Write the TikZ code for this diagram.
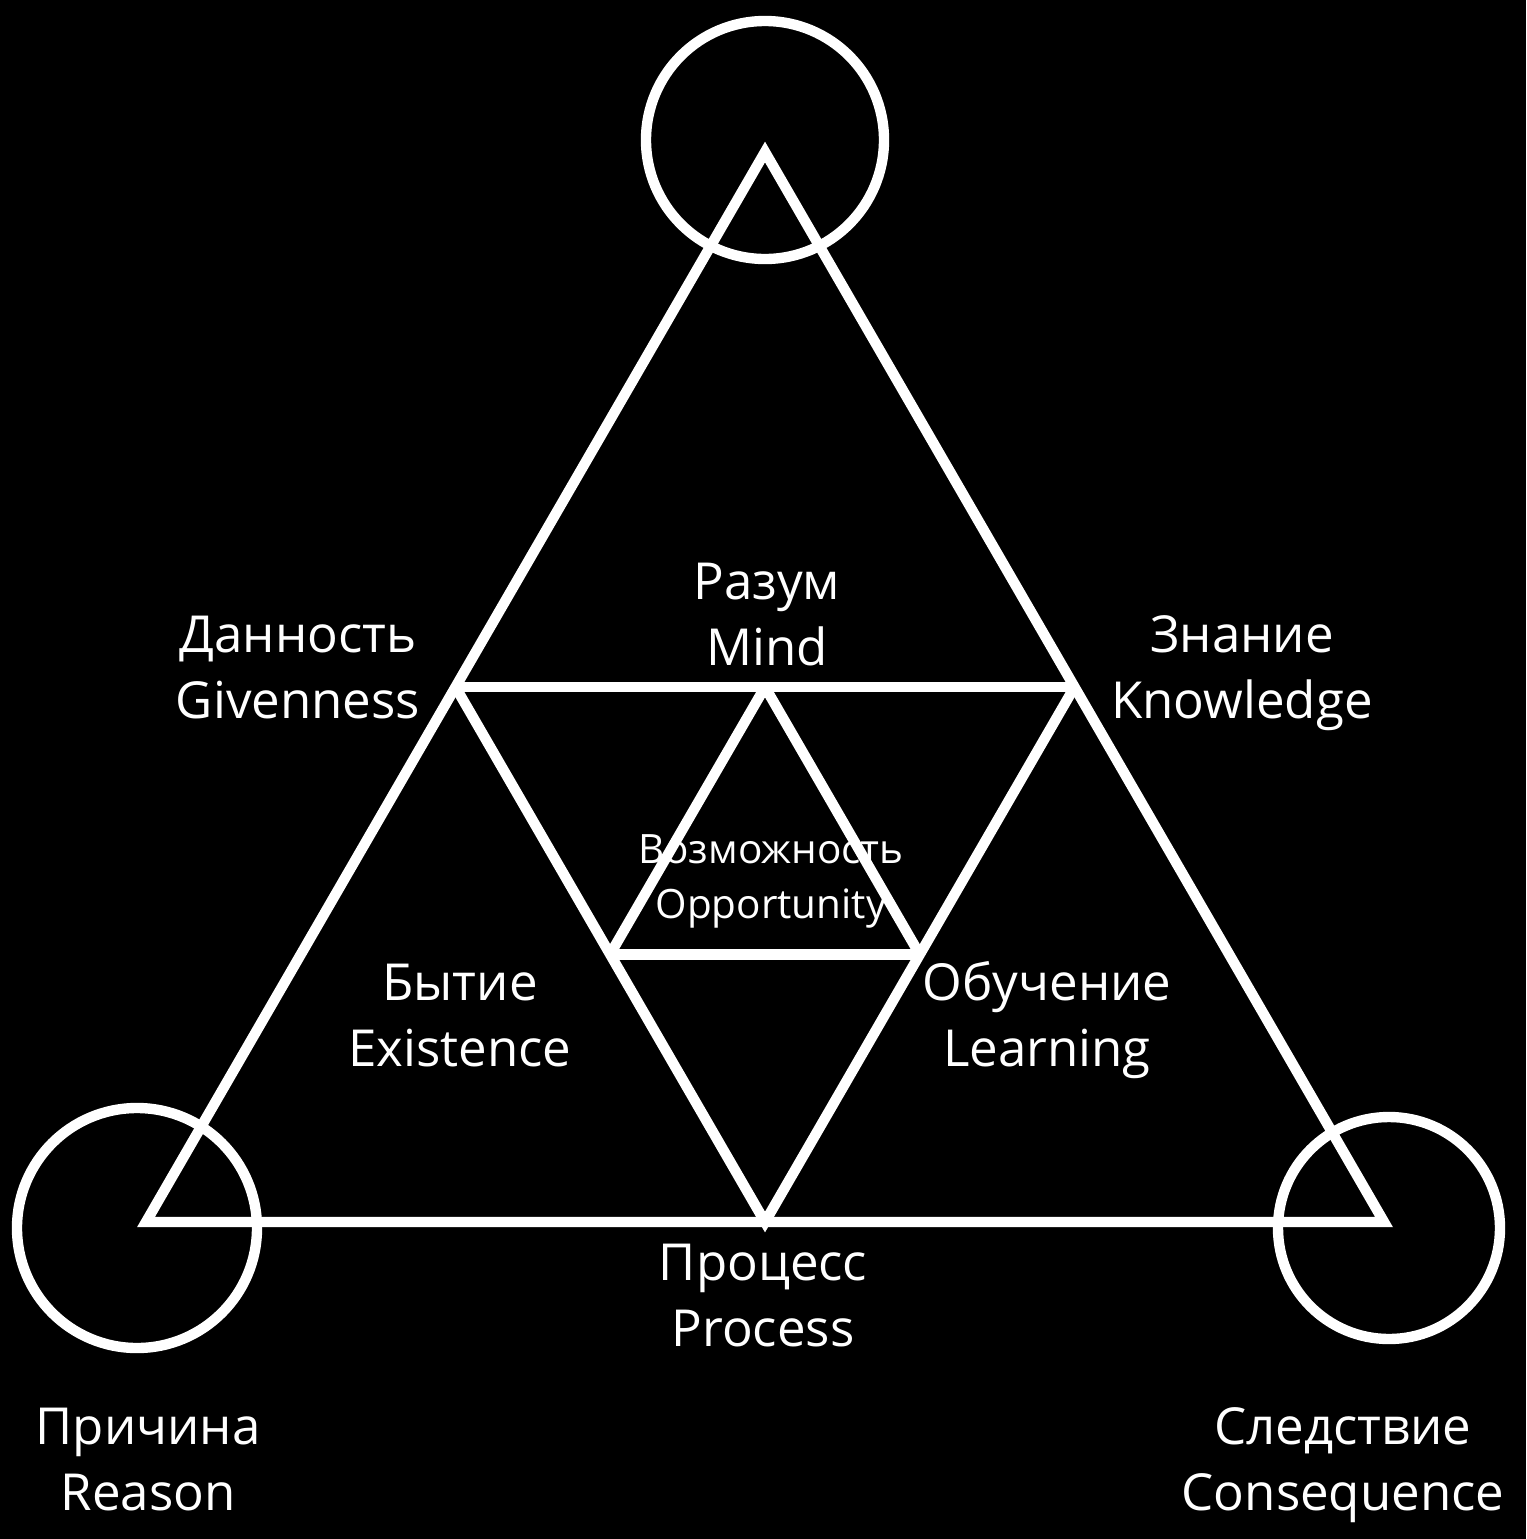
\documentclass[tikz,border=0pt]{standalone}
\usepackage{fontspec}
\setmainfont{Open Sans}
\usepackage{tikz}

\begin{document}
\begin{tikzpicture}[x=0.01cm, y=-0.01cm,
    edge/.style={draw=white, line width=2.95pt},
    lbl/.style={text=white, align=center, anchor=base, inner sep=0pt,
        font=\fontsize{14.5}{18.5}\selectfont},
    smalllbl/.style={lbl, font=\fontsize{11.5}{15.6}\selectfont}]
    \fill[black] (0,0) rectangle (1526,1539);
    % big triangle and its midpoints
    \coordinate (top) at (765,152);
    \coordinate (left) at (146,1222);
    \coordinate (right) at (1384,1222);
    \coordinate (ml) at (455.5,687);
    \coordinate (mr) at (1074.5,687);
    \coordinate (mb) at (765,1222);
    \coordinate (sl) at (610,954.5);
    \coordinate (sr) at (919.75,954.5);
    \draw[edge] (top) -- (left) -- (right) -- cycle;
    \draw[edge] (ml) -- (mr);
    \draw[edge] (ml) -- (mb) -- (mr);
    \draw[edge, line join=bevel] (sl) -- (top |- ml) -- (sr);
    \draw[edge] (sl) -- (sr);
    % circles at the corners
    \draw[edge] (765,140) circle (119);
    \draw[edge] (137,1228) circle (120);
    \draw[edge] (1389,1228) circle (111);
    % labels, placed at the baseline of their last line
    \node[lbl] (mind) at (767,665) {Разум\\Mind};
    \node[lbl] (given) at (298,718) {Данность\\Givenness};
    \node[lbl] (know) at (1242,718) {Знание\\Knowledge};
    \node[smalllbl] (opp) at (771,918) {Возможность\\Opportunity};
    \node[lbl] (exist) at (460,1066) {Бытие\\Existence};
    \node[lbl] (learn) at (1047,1066) {Обучение\\Learning};
    \node[lbl] (proc) at (763,1346) {Процесс\\Process};
    \node[lbl] (reason) at (148,1510) {Причина\\Reason};
    \node[lbl] (conseq) at (1343,1510) {Следствие\\Consequence};
\end{tikzpicture}
\end{document}
